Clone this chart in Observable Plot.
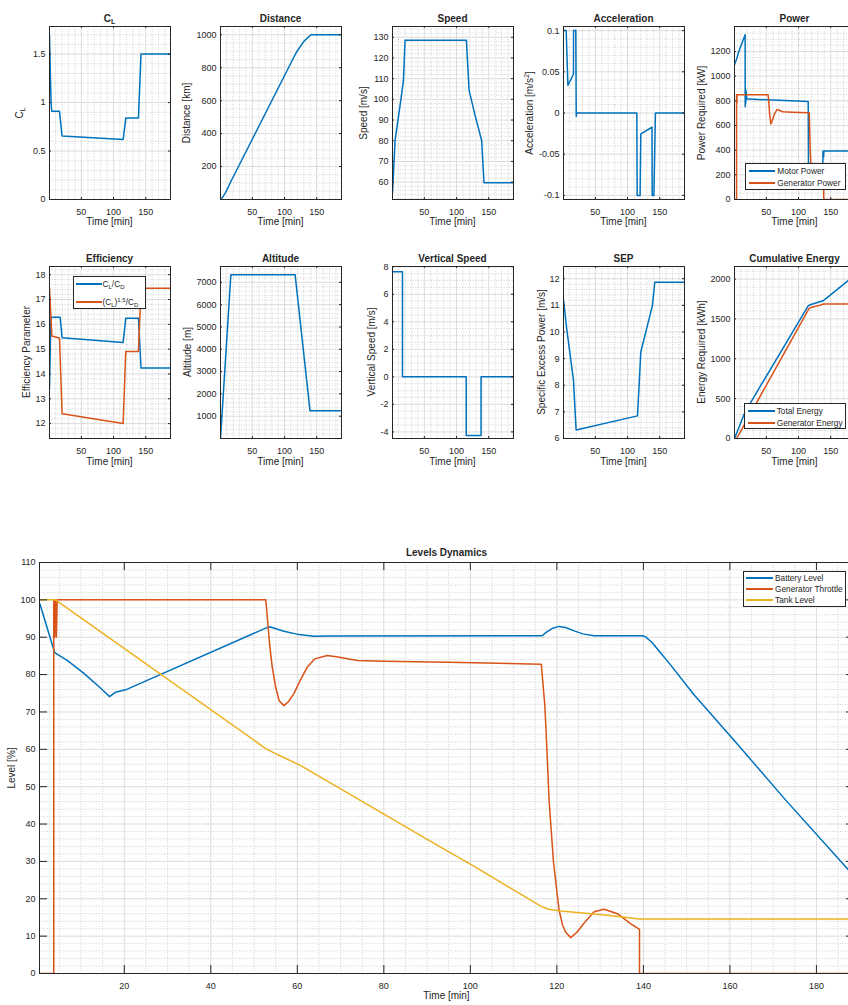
<!DOCTYPE html>
<html>
<head>
<meta charset="utf-8">
<script src="https://cdn.jsdelivr.net/npm/d3@7"></script>
<script src="https://cdn.jsdelivr.net/npm/@observablehq/plot@0.6"></script>
<style>
  html, body { margin: 0; padding: 0; background: #fff; overflow: hidden; }
  #fig { position: relative; width: 848px; height: 1005px; overflow: hidden;
         font-family: 'Liberation Sans', Arial, Helvetica, sans-serif; color: #262626; }
  .t { position: absolute; white-space: nowrap; line-height: 1; }
  .t sub { font-size: 0.72em; vertical-align: -0.3em; line-height: 0; }
  .t sup { font-size: 0.72em; vertical-align: 0.5em; line-height: 0; }
  .lg { position: absolute; background: #fff; border: 1px solid #262626; box-sizing: border-box; }
  .lgline { position: absolute; height: 0; border-top-style: solid; border-top-width: 2px; }
</style>
</head>
<body>
<div id="fig"></div>
<script>
// ---------- mission time histories (time in minutes) ----------
const clTime = [0.5, 1.6, 2.6, 3.4, 4.2, 16, 20, 115, 119, 138.7, 142.7, 188.5];
const clValue = [1.70, 1.36, 1.08, 0.95, 0.91, 0.91, 0.655, 0.62, 0.84, 0.84, 1.5, 1.5];

const distTime = [0.5, 4, 8, 12, 16, 20, 115, 120, 130, 141, 188.5];
const distKm = [0, 15, 40, 70, 105, 135, 868, 903, 960, 1000, 1000];

const speedTime = [0.5, 4.5, 13.3, 17.5, 20, 115.3, 119.5, 129, 139, 142.7, 188.5];
const speedMs = [54.7, 80.1, 99.4, 109, 128.6, 128.6, 104.3, 92, 80.1, 59.7, 59.7];

const accTime = [0.5, 4.7, 7.3, 16, 16.1, 19.6, 20.3, 21, 114.4, 115, 119.5, 120.6, 138, 138.3, 141, 143.3, 188.5];
const accMs2 = [0.1, 0.1, 0.0336, 0.047, 0.1, 0.1, -0.004, 0, 0, -0.1, -0.1, -0.0254, -0.0173, -0.1, -0.1, 0, 0];

const motorTime = [0.5, 4.5, 5.5, 6.5, 17, 17.1, 17.5, 18, 18.5, 19.5, 22, 115, 115.6, 116.5, 137.5, 138, 138.8, 139.5, 188.5];
const motorKw = [1092, 1150, 1170, 1190, 1336, 752, 900, 780, 880, 815, 815, 795, 110, 120, 130, 393, 345, 393, 393];

const genTime = [0.5, 3.7, 3.7, 3.9, 4.1, 4.3, 4.5, 52.7, 53.5, 55, 56.9, 58.8, 62.3, 66.5, 70.8, 75.4, 90.8, 116.6, 117.2, 118.2, 120.5, 123.2, 128.6, 130.9, 134, 137.1, 139.1, 139.1, 188.5];
const genKw = [0, 0, 850, 780, 850, 780, 850, 850, 810, 700, 612, 635, 690, 730, 722, 712, 708, 703, 590, 390, 145, 82, 140, 146, 136, 113, 100, 0, 0];

const ldTime = [0.5, 1.8, 3.1, 17, 20.1, 114.9, 119, 138.7, 142.7, 188.5];
const ldRatio = [13.41, 15.2, 16.29, 16.29, 15.46, 15.27, 16.25, 16.25, 14.24, 14.24];
const enduranceTime = [0.5, 4.2, 16, 20.1, 114.9, 119, 138.7, 142.7, 188.5];
const enduranceRatio = [17.46, 15.53, 15.45, 12.4, 12.0, 14.91, 14.91, 17.45, 17.45];

const altTime = [0.5, 16.6, 116.4, 139.6, 188.5];
const altM = [0, 7343, 7343, 1240, 1240];

const vsTime = [0.5, 16.0, 16.0, 115.0, 115.0, 138.1, 138.1, 188.5];
const vsMs = [7.64, 7.64, 0, 0, -4.27, -4.27, 0, 0];

const sepTime = [0.5, 5.8, 16, 20.1, 115.5, 120.6, 138.7, 142.3, 188.5];
const sepMs = [11.2, 10.06, 8.19, 6.32, 6.85, 9.25, 11.0, 11.87, 11.87];

const totalETime = [0.5, 17, 115, 117, 138, 141, 188.5];
const totalEKwh = [0, 335, 1665, 1675, 1728, 1745, 2055];
const genETime = [0.5, 3.8, 116, 118, 125, 133, 139, 188.5];
const genEKwh = [0, 0, 1625, 1640, 1655, 1672, 1688, 1688];

const batteryTime = [0.5, 3.9, 6.8, 10.6, 14.5, 16.6, 18, 20.7, 53.1, 53.8, 56.9, 60.4, 63.8, 67.7, 116.6, 117.5, 119, 120.5, 122, 124, 126, 128.6, 139.8, 140.5, 142, 144, 146, 151.7, 160.9, 172.9, 188.8];
const batteryPct = [98.9, 85.9, 83.8, 80.4, 76.4, 74.1, 75.3, 76.1, 92.65, 92.75, 91.6, 90.7, 90.25, 90.3, 90.4, 91.3, 92.4, 92.9, 92.6, 91.7, 90.9, 90.4, 90.4, 90.1, 88.6, 85.8, 83.0, 74.6, 62.5, 46.4, 25.9];

const throttleTime = [0.5, 3.7, 3.7, 3.9, 4.1, 4.3, 4.5, 52.7, 53.1, 53.6, 54.2, 55, 55.8, 56.9, 58, 59.2, 60.7, 62.3, 64, 66.9, 69, 73.9, 80, 95, 116.4, 117.2, 117.6, 118.2, 119.2, 120.5, 121.3, 122, 123.2, 124.7, 126.5, 128.6, 130.9, 134, 137.1, 139.1, 139.1, 188.8];
const throttlePct = [0, 0, 100, 90, 100, 90, 100, 100, 95, 88, 82, 76.6, 73, 71.7, 72.8, 74.9, 78.5, 82, 84.2, 85.1, 84.8, 83.8, 83.6, 83.3, 82.8, 72, 62.5, 46.4, 30, 17, 13, 11.1, 9.6, 11.1, 13.8, 16.5, 17.2, 16.0, 13.3, 11.8, 0, 0];

const tankTime = [0.5, 4.1, 52.7, 55.4, 60.7, 93.1, 100.4, 113, 115, 116.5, 118, 120.9, 131.7, 139, 188.8];
const tankPct = [100, 100, 60.2, 58.6, 55.7, 33.8, 29.0, 20.3, 18.9, 17.9, 17.2, 16.7, 15.6, 14.6, 14.6];

// ---------- tick values ----------
const smallTimeTicks = [50, 100, 150];
const levelTimeTicks = [20, 40, 60, 80, 100, 120, 140, 160, 180];
const clTicks = [0, 0.5, 1, 1.5];
const distTicks = [200, 400, 600, 800, 1000];
const speedTicks = [60, 70, 80, 90, 100, 110, 120, 130];
const accTicks = [-0.1, -0.05, 0, 0.05, 0.1];
const powerTicks = [0, 200, 400, 600, 800, 1000, 1200];
const effTicks = [12, 13, 14, 15, 16, 17, 18];
const altTicks = [1000, 2000, 3000, 4000, 5000, 6000, 7000];
const vsTicks = [-4, -2, 0, 2, 4, 6, 8];
const sepTicks = [6, 7, 8, 9, 10, 11, 12];
const energyTicks = [0, 500, 1000, 1500, 2000];
const levelTicks = [0, 10, 20, 30, 40, 50, 60, 70, 80, 90, 100, 110];

// ---------- drawing helpers ----------
const BLUE = "#0072BD", ORANGE = "#D95319", YELLOW = "#EDB120";
const INK = "#262626";
const FONT = "'Liberation Sans', Arial, Helvetica, sans-serif";
const fig = document.getElementById("fig");
const ML = 46, MR = 8, MT = 8, MB = 24;

function minorTicks(major, step, domain) {
  const lo = Math.ceil(domain[0] / step - 1e-9) * step;
  return d3.range(lo, domain[1] + step * 1e-6, step)
    .map(v => +v.toFixed(6))
    .filter(v => !major.some(m => Math.abs(m - v) < step / 10));
}

function panel({left, top, width, height, xDomain, yDomain, xTicks, yTicks, xStep, yStep, series, tick}) {
  const fmt = d => String(d);
  const marks = [
    Plot.gridX(minorTicks(xTicks, xStep, xDomain), {stroke: "#bdbdbd", strokeOpacity: 1, strokeWidth: 0.7, strokeDasharray: "1,1.6"}),
    Plot.gridY(minorTicks(yTicks, yStep, yDomain), {stroke: "#bdbdbd", strokeOpacity: 1, strokeWidth: 0.7, strokeDasharray: "1,1.6"}),
    Plot.gridX(xTicks, {stroke: "#dcdcdc", strokeOpacity: 1, strokeWidth: 1}),
    Plot.gridY(yTicks, {stroke: "#dcdcdc", strokeOpacity: 1, strokeWidth: 1}),
    ...series.map(s => Plot.line(s.t, {x: s.t, y: s.v, stroke: s.color, strokeWidth: 1.5, clip: true})),
    Plot.ruleX(xTicks, {stroke: INK, insetTop: height - tick}),
    Plot.ruleX(xTicks, {stroke: INK, insetBottom: height - tick}),
    Plot.ruleY(yTicks, {stroke: INK, insetRight: width - tick}),
    Plot.ruleY(yTicks, {stroke: INK, insetLeft: width - tick}),
    Plot.frame({stroke: INK, strokeWidth: 1}),
    Plot.axisX(xTicks, {tickSize: 0, tickPadding: 9, tickFormat: fmt, label: null}),
    Plot.axisY(yTicks, {tickSize: 0, tickPadding: 4, tickFormat: fmt, label: null})
  ];
  const chart = Plot.plot({
    width: width + ML + MR, height: height + MT + MB,
    marginLeft: ML, marginRight: MR, marginTop: MT, marginBottom: MB,
    x: {domain: xDomain}, y: {domain: yDomain},
    style: {fontFamily: FONT, fontSize: "9px", color: INK, background: "transparent"},
    marks
  });
  chart.style.position = "absolute";
  chart.style.left = (left - ML) + "px";
  chart.style.top = (top - MT) + "px";
  chart.style.maxWidth = "none";
  chart.style.overflow = "visible";
  fig.appendChild(chart);
}

function txt(html, x, y, {size = 10, bold = false, rotate = false, align = "center"} = {}) {
  const d = document.createElement("div");
  d.className = "t";
  d.innerHTML = html;
  const tx = align === "center" ? "-50%" : "0";
  d.style.cssText += `left:${x}px;top:${y}px;font-size:${size}px;font-weight:${bold ? 700 : 400};` +
    `transform:translate(${tx},-50%)${rotate ? " rotate(-90deg)" : ""};`;
  fig.appendChild(d);
}

function legend([x0, y0, x1, y1], [lx0, lx1], textX, rows) {
  const box = document.createElement("div");
  box.className = "lg";
  box.style.cssText += `left:${x0}px;top:${y0}px;width:${x1 - x0}px;height:${y1 - y0}px;`;
  fig.appendChild(box);
  for (const r of rows) {
    const ln = document.createElement("div");
    ln.className = "lgline";
    ln.style.cssText += `left:${Math.round(lx0)}px;top:${Math.round(r.y) - 1}px;width:${Math.round(lx1 - lx0)}px;border-top-color:${r.color};`;
    fig.appendChild(ln);
    txt(r.html, textX, r.y, {size: 8.3, align: "left"});
  }
}

// ---------- small panels ----------
const COLS = [49, 220, 392, 563, 734];
const W = 121;
const ROW1 = {top: 26, height: 173}, ROW2 = {top: 266, height: 172};
const smallX = {width: W, xDomain: [0.5, 188.5], xTicks: smallTimeTicks, xStep: 10, tick: 2};

const panels = [
  {col: 0, row: ROW1, yDomain: [0, 1.785], yTicks: clTicks, yStep: 0.1,
   series: [{t: clTime, v: clValue, color: BLUE}]},
  {col: 1, row: ROW1, yDomain: [0, 1050], yTicks: distTicks, yStep: 50,
   series: [{t: distTime, v: distKm, color: BLUE}]},
  {col: 2, row: ROW1, yDomain: [51.6, 135.2], yTicks: speedTicks, yStep: 2,
   series: [{t: speedTime, v: speedMs, color: BLUE}]},
  {col: 3, row: ROW1, yDomain: [-0.105, 0.105], yTicks: accTicks, yStep: 0.01,
   series: [{t: accTime, v: accMs2, color: BLUE}]},
  {col: 4, row: ROW1, yDomain: [0, 1403], yTicks: powerTicks, yStep: 50,
   series: [{t: motorTime, v: motorKw, color: BLUE}, {t: genTime, v: genKw, color: ORANGE}]},
  {col: 0, row: ROW2, yDomain: [11.4, 18.33], yTicks: effTicks, yStep: 0.2,
   series: [{t: ldTime, v: ldRatio, color: BLUE}, {t: enduranceTime, v: enduranceRatio, color: ORANGE}]},
  {col: 1, row: ROW2, yDomain: [0, 7710], yTicks: altTicks, yStep: 200,
   series: [{t: altTime, v: altM, color: BLUE}]},
  {col: 2, row: ROW2, yDomain: [-4.48, 8.02], yTicks: vsTicks, yStep: 0.5,
   series: [{t: vsTime, v: vsMs, color: BLUE}]},
  {col: 3, row: ROW2, yDomain: [6.0, 12.46], yTicks: sepTicks, yStep: 0.2,
   series: [{t: sepTime, v: sepMs, color: BLUE}]},
  {col: 4, row: ROW2, yDomain: [0, 2158], yTicks: energyTicks, yStep: 100,
   series: [{t: totalETime, v: totalEKwh, color: BLUE}, {t: genETime, v: genEKwh, color: ORANGE}]}
];

for (const p of panels) {
  panel({...smallX, left: COLS[p.col], top: p.row.top, height: p.row.height,
         yDomain: p.yDomain, yTicks: p.yTicks, yStep: p.yStep, series: p.series});
}

// ---------- levels panel ----------
panel({left: 39, top: 562, width: 815, height: 411,
       xDomain: [0.4, 188.8], yDomain: [0, 110],
       xTicks: levelTimeTicks, yTicks: levelTicks, xStep: 5, yStep: 2, tick: 8,
       series: [
         {t: batteryTime, v: batteryPct, color: BLUE},
         {t: throttleTime, v: throttlePct, color: ORANGE},
         {t: tankTime, v: tankPct, color: YELLOW}
       ]});

// ---------- titles and axis labels ----------
const centers = COLS.map(c => c + W / 2);
const titles1 = ["C<sub>L</sub>", "Distance", "Speed", "Acceleration", "Power"];
const titles2 = ["Efficiency", "Altitude", "Vertical Speed", "SEP", "Cumulative Energy"];
const ylab1 = ["C<sub>L</sub>", "Distance [km]", "Speed [m/s]", "Acceleration [m/s<sup>2</sup>]", "Power Required [kW]"];
const ylab2 = ["Efficiency Parameter", "Altitude [m]", "Vertical Speed [m/s]", "Specific Excess Power [m/s]", "Energy Required [kWh]"];
const ylabX1 = [20, 187.3, 364, 530, 701.7];
const ylabX2 = [27.3, 188.3, 371.7, 541.7, 701.7];

centers.forEach((cx, i) => {
  txt(titles1[i], cx, 19, {bold: true});
  txt(titles2[i], cx, 259, {bold: true});
  txt("Time [min]", cx, 222);
  txt("Time [min]", cx, 462);
  txt(ylab1[i], ylabX1[i], 112.5, {rotate: true});
  txt(ylab2[i], ylabX2[i], 352, {rotate: true});
});

txt("Levels Dynamics", 446.5, 553.3, {bold: true});
txt("Time [min]", 446.5, 996);
txt("Level [%]", 11.7, 767.5, {rotate: true});

// ---------- legends ----------
legend([745, 163, 846, 190], [748.7, 775], 777.3, [
  {y: 171, color: BLUE, html: "Motor Power"},
  {y: 183, color: ORANGE, html: "Generator Power"}
]);
legend([73, 276, 146, 309], [76, 101.7], 102.5, [
  {y: 284, color: BLUE, html: "C<sub>L</sub>/C<sub>D</sub>"},
  {y: 302, color: ORANGE, html: "(C<sub>L</sub>)<sup>1.5</sup>/C<sub>D</sub>"}
]);
legend([744, 403, 846, 429], [747.7, 775], 776.7, [
  {y: 411, color: BLUE, html: "Total Energy"},
  {y: 423, color: ORANGE, html: "Generator Energy"}
]);
legend([743, 571, 846, 607], [745.7, 772.3], 775, [
  {y: 578, color: BLUE, html: "Battery Level"},
  {y: 589, color: ORANGE, html: "Generator Throttle"},
  {y: 600, color: YELLOW, html: "Tank Level"}
]);
</script>
</body>
</html>
